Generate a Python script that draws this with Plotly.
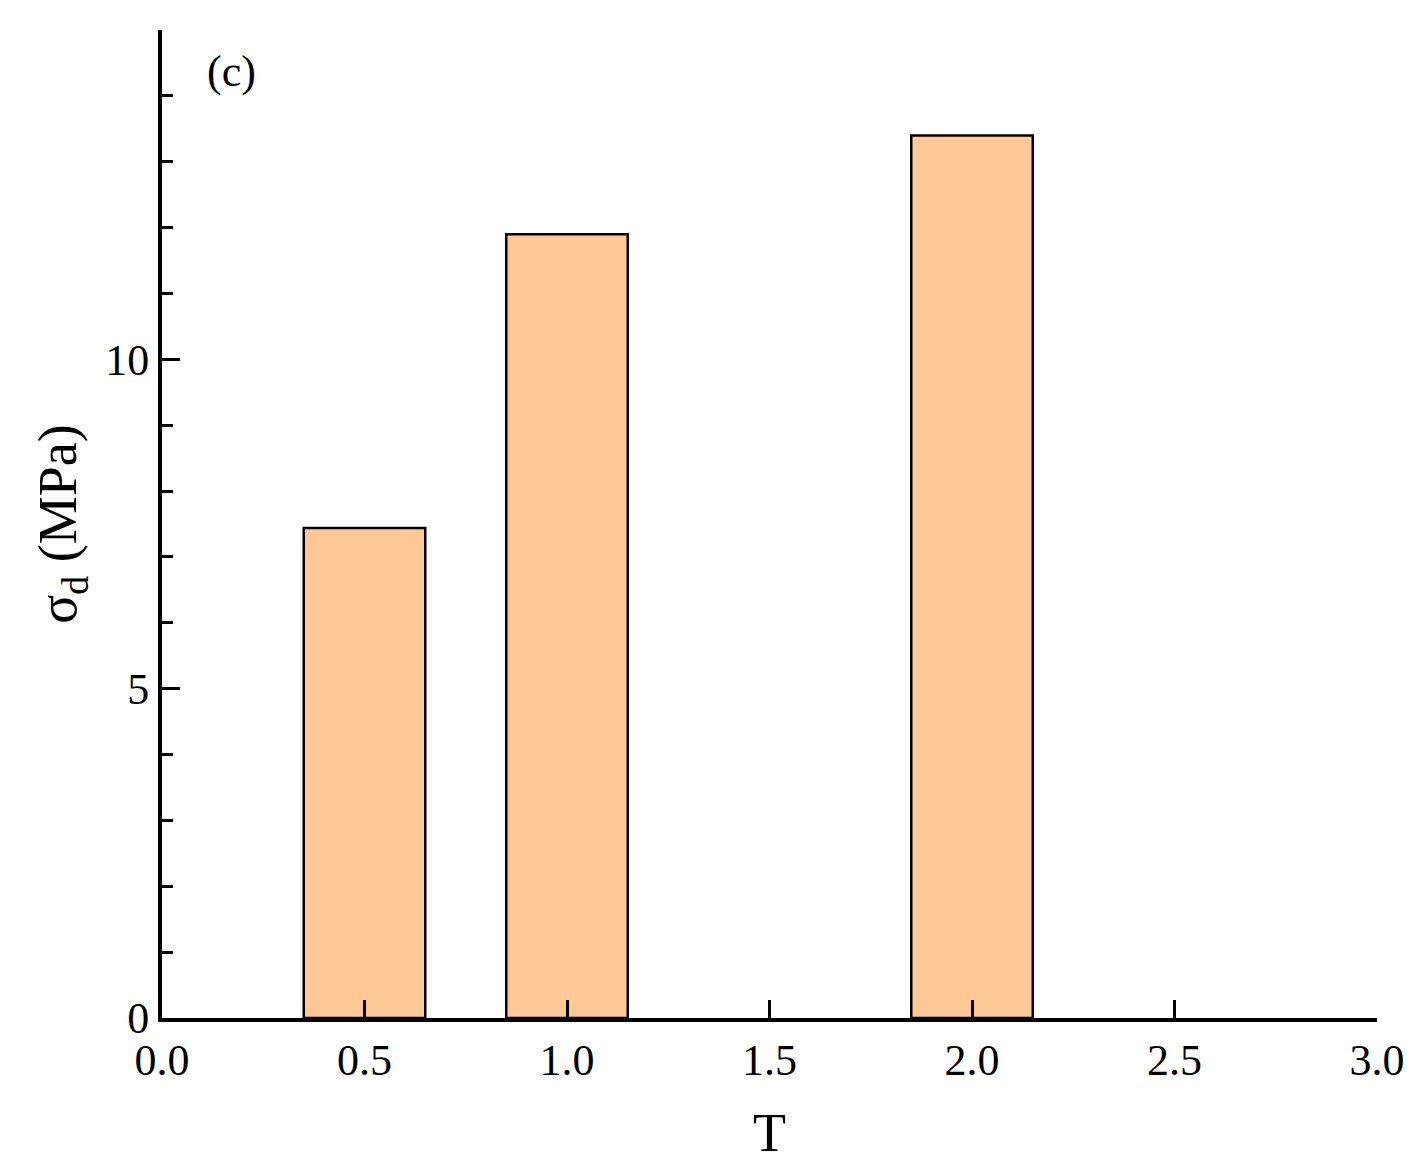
import plotly.graph_objects as go

T = [0.5, 1.0, 2.0]
sigma_d = [7.44, 11.9, 13.4]

fig = go.Figure(go.Bar(x=T, y=sigma_d, width=0.3,
                       marker=dict(color="#FFC896", line=dict(color="black", width=2.5))))
font = dict(family="Liberation Serif", size=44, color="black")
fig.update_layout(
    width=1419, height=1176, plot_bgcolor="white", paper_bgcolor="white",
    margin=dict(l=154, r=50, t=22, b=166), showlegend=False, font=font,
    xaxis=dict(range=[0, 3], tickvals=[0, 0.5, 1, 1.5, 2, 2.5, 3], ticktext=["0.0","0.5","1.0","1.5","2.0","2.5","3.0"],
               ticks="inside", ticklen=18, tickwidth=3, tickcolor="black", showline=True, linewidth=4, linecolor="black",
               showgrid=False, zeroline=False, automargin=False,
               title=dict(text="T", font=dict(size=54), standoff=30)),
    yaxis=dict(range=[0, 15], tickvals=[0, 5, 10, 15], ticks="inside", ticklen=18, tickwidth=3, tickcolor="black",
               showline=True, linewidth=4, linecolor="black", showgrid=False, zeroline=False, automargin=False,
               minor=dict(dtick=1, ticks="inside", ticklen=11, tickwidth=3, tickcolor="black"),
               title=dict(text="σ<sub>d</sub> (MPa)", font=dict(size=54), standoff=12)),
    annotations=[dict(text="(c)", x=0.057, y=0.985, xref="paper", yref="paper", xanchor="center",
                      yanchor="top", showarrow=False, font=dict(size=44))],
)
fig.write_html("out.html")
